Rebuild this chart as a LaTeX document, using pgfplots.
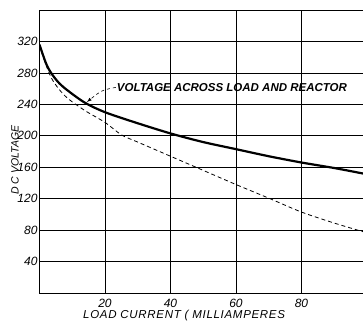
\documentclass[border=0pt]{standalone}
\usepackage{fontspec}
\setmainfont{Liberation Sans}
\usepackage{pgfplots}
\pgfplotsset{compat=1.18}
\begin{document}
\begin{tikzpicture}
\begin{axis}[
  at={(0,0)}, anchor=south west,
  scale only axis, width=323.5pt, height=283pt,
  xmin=0, xmax=98.8, ymin=0, ymax=360,
  axis y line*=left, axis x line*=box,
  axis line style={line width=0.9pt},
  xtick={20,40,60,80}, ytick={40,80,...,320},
  extra y ticks={360}, extra y tick labels={},
  extra y tick style={grid=major},
  grid=major, major grid style={black, line width=0.6pt},
  major tick length=0pt,
  /pgf/number format/assume math mode=true,
  ticklabel style={font=\itshape\fontsize{12}{12}\selectfont},
  yticklabel style={xshift=1.5pt},
  xticklabel style={yshift=-3pt},
  xlabel={LOAD CURRENT ( MILLIAMPERES},
  ylabel={D C VOLTAGE},
  xlabel style={font=\itshape\fontsize{11.5}{11.5}\selectfont\addfontfeatures{LetterSpace=6}, at={(axis description cs:0.447,-0.078)}, anchor=center},
  ylabel style={font=\itshape\fontsize{10.5}{10.5}\selectfont, at={(axis description cs:-0.076,0.47)}, anchor=center},
  clip=true,
]
\addplot[black, line width=2.2pt, smooth] coordinates {
(0,316) (2,292) (3.7,279) (6,267) (8.8,257) (13.9,242) (20,230) (29.2,217) (40,203) (50,192) (60,183) (70,174) (80,166) (90,159) (98.8,152)};
\addplot[black, line width=0.8pt, dash pattern=on 4pt off 3pt, smooth] coordinates {
(0,315) (2,290) (3.7,273) (6,259) (8.8,247) (13.9,232) (20,217) (25.1,201) (30,192) (40,174) (50,156) (60,138) (70.4,120) (80,103) (90,89) (98.8,78)};
\node[anchor=west, font=\itshape\bfseries\fontsize{11.5}{12}\selectfont, inner sep=1pt] (lbl) at (axis cs:23.3,261.6) {VOLTAGE ACROSS LOAD AND REACTOR};
\draw[dashed, line width=0.6pt, -latex] (lbl.west) .. controls (axis cs:19,258) .. (axis cs:14.5,243);
\end{axis}
\pgfresetboundingbox
\path (-39.5pt,-32pt) rectangle (323.5pt,293pt);
\end{tikzpicture}
\end{document}
